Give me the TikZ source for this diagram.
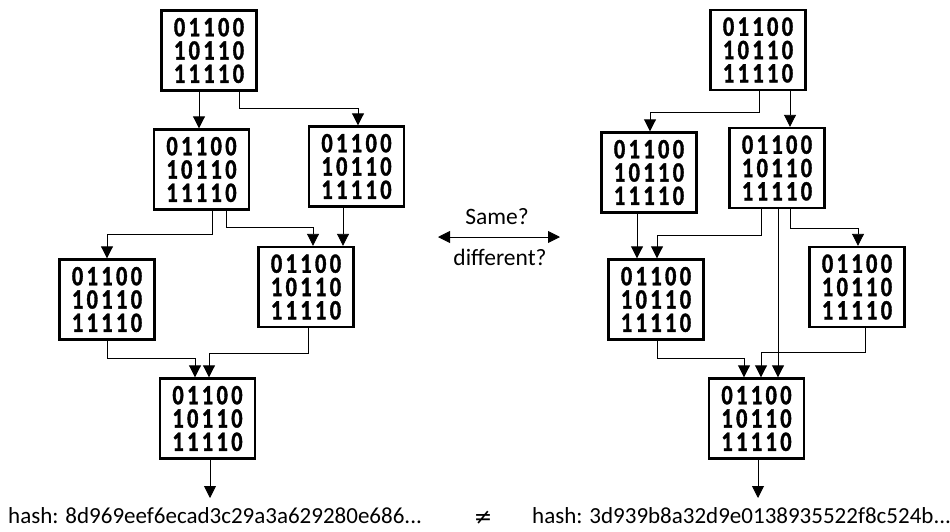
\documentclass[tikz,border=0pt]{standalone}
\usepackage{fontspec}
\setmainfont{Carlito}
\newfontfamily\bitfont[LetterSpace=12,FakeStretch=0.8,FakeBold=1.2]{Carlito Bold}
\newfontfamily\symfont{DejaVu Sans}
\usetikzlibrary{arrows.meta,calc}
\begin{document}
\begin{tikzpicture}[x=1pt,y=-1pt,
  blk/.style={draw,line width=2.4pt,minimum width=95pt,minimum height=80pt,inner sep=0pt,
    align=center,font=\fontsize{28}{23.3}\bitfont},
  edge/.style={line width=0.9pt,-{Triangle[width=12pt,length=12pt]}},
  lbl/.style={font=\fontsize{23.5}{25}\selectfont,inner sep=0pt}]
\useasboundingbox (0,0) rectangle (950,531);
\newcommand{\bits}{01100\\10110\\11110}
% left graph
\node[blk] (L1) at (209,50.5) {\bits};
\node[blk] (L2) at (201.5,169.5) {\bits};
\node[blk] (L3) at (356.5,166.5) {\bits};
\node[blk] (L4) at (107,299.5) {\bits};
\node[blk] (L5) at (306,287) {\bits};
\node[blk] (L6) at (207.5,418.5) {\bits};
\coordinate (oL) at (210,498);
\draw[edge] ([xshift=-10pt]L1.south) -- ([xshift=-10pt]L1.south |- L2.north);
\draw[edge] ([xshift=30pt]L1.south) -- ++(0,17) -| ([xshift=1.5pt]L3.north);
\draw[edge] ([xshift=10.5pt]L2.south) -- ++(0,24) -| (L4.north);
\draw[edge] ([xshift=24.5pt]L2.south) -- ++(0,17) -| ([xshift=7pt]L5.north);
\draw[edge] ([xshift=-13.5pt]L3.south) -- ([xshift=-13.5pt]L3.south |- L5.north);
\draw[edge] (L4.south) -- ++(0,18) -| ([xshift=-12.5pt]L6.north);
\draw[edge] ([xshift=2pt]L5.south) -- ++(0,25) -| ([xshift=1.5pt]L6.north);
\draw[edge] (L6.south -| oL) -- (oL);
% right graph
\node[blk] (R1) at (758,50) {\bits};
\node[blk] (R2) at (649,172.5) {\bits};
\node[blk] (R3) at (777,168) {\bits};
\node[blk] (R4) at (656,299.5) {\bits};
\node[blk] (R5) at (857,287) {\bits};
\node[blk] (R6) at (756.5,418.5) {\bits};
\coordinate (oR) at (758,498);
\draw[edge] ([xshift=1pt]R1.south) -- ++(0,21) -| ([xshift=1pt]R2.north);
\draw[edge] ([xshift=32pt]R1.south) -- ([xshift=32pt]R1.south |- R3.north);
\draw[edge] ([xshift=-12pt]R2.south) -- ([xshift=-12pt]R2.south |- R4.north);
\draw[edge] ([xshift=-16pt]R3.south) -- ++(0,26) -| ([xshift=1pt]R4.north);
\draw[edge] ([xshift=13pt]R3.south) -- ++(0,19) -| ([xshift=1pt]R5.north);
\draw[edge] ([xshift=1pt]R3.south) -- ([xshift=1pt]R3.south |- R6.north);
\draw[edge] ([xshift=1pt]R4.south) -- ++(0,18) -| ([xshift=-12.5pt]R6.north);
\draw[edge] ([xshift=8pt]R5.south) -- ++(0,24) -| ([xshift=4.5pt]R6.north);
\draw[edge] (R6.south -| oR) -- (oR);
% middle
\coordinate (mA) at (438,237);
\coordinate (mB) at (560,237);
\draw[line width=0.9pt,{Triangle[width=12pt,length=12pt]}-{Triangle[width=12pt,length=12pt]}] (mA) -- (mB);
\node[lbl] (same) at (497,217) {Same?};
\node[lbl] (diff) at (500,257) {different?};
% hashes
\node[lbl,font=\fontsize{23}{25}\selectfont,anchor=west] (hL) at (8,516) {hash: 8d969eef6ecad3c29a3a629280e686...};
\node[lbl,font=\fontsize{23}{25}\selectfont,anchor=west] (hR) at (532,516) {hash: 3d939b8a32d9e0138935522f8c524b...};
\node[lbl,font=\fontsize{22}{24}\symfont] (ne) at (483,518) {≠};
\end{tikzpicture}
\end{document}
